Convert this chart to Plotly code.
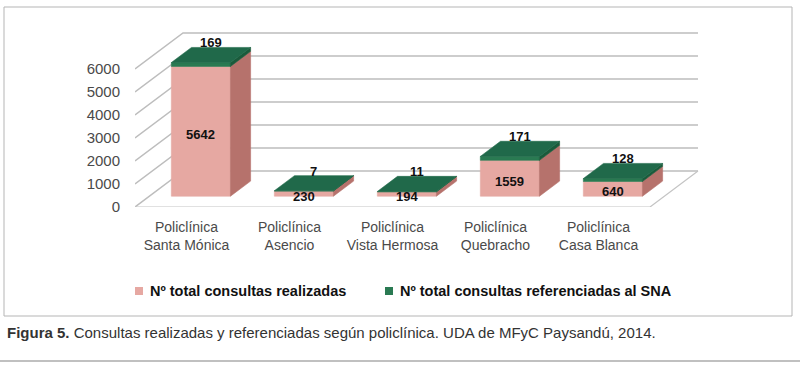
import plotly.graph_objects as go

# ---------------- data ----------------
categories = ["Policlínica<br>Santa Mónica", "Policlínica<br>Asencio",
              "Policlínica<br>Vista Hermosa", "Policlínica<br>Quebracho",
              "Policlínica<br>Casa Blanca"]
realizadas = [5642, 230, 194, 1559, 640]
referenciadas = [169, 7, 11, 171, 128]
y_ticks = [0, 1000, 2000, 3000, 4000, 5000, 6000]
series_names = ["Nº total consultas realizadas",
                "Nº total consultas referenciadas al SNA"]
caption_bold = "Figura 5."
caption_text = " Consultas realizadas y referenciadas según policlínica. UDA de MFyC Paysandú, 2014."

# ---------------- layout geometry ----------------
W, H = 800, 375
L, R, T, B = 135, 100, 25, 168
PW, PH = W - L - R, H - T - B
CAT_PX = 103.0
X_RANGE = [-0.5, -0.5 + PW / CAT_PX]
PX_PER_UNIT = 0.023
Y_RANGE = [0, PH / PX_PER_UNIT]

# pseudo-3D projection (depth z in [0, 1])
DX = 48 / CAT_PX          # category units for full depth
DY = 36 / PX_PER_UNIT     # value units for full depth
Z0, Z1 = 0.30, 0.72       # bar depth span
HALF = 0.287              # half bar width (category units)

PINK_FRONT = "#E6A8A2"
PINK_SIDE = "#B6726C"
GREEN_FRONT = "#2A7A52"
GREEN_TOP = "#20694A"
GREEN_SIDE = "#1A5A3B"
GRID = "#BDBDBD"


def proj(x, v, z):
    return x + z * DX, v + z * DY


def px2paper(px, py):
    return (px - L) / PW, (H - B - py) / PH


def poly_trace(polys, color):
    xs, ys = [], []
    for p in polys:
        for (x, v, z) in p + [p[0]]:
            a, b = proj(x, v, z)
            xs.append(a)
            ys.append(b)
        xs.append(None)
        ys.append(None)
    return go.Scatter(x=xs, y=ys, mode="lines", fill="toself",
                      fillcolor=color, line=dict(color=color, width=0.6),
                      hoverinfo="skip", showlegend=False)


fig = go.Figure()

# ---------------- walls / floor ----------------
xl, xr = -0.5, len(categories) - 0.5
gx, gy = [], []
for v in y_ticks:
    for (x, z) in [(xl, 0), (xl, 1), (xr, 1)]:
        a, b = proj(x, v, z)
        gx.append(a)
        gy.append(b)
    gx.append(None)
    gy.append(None)
fig.add_trace(go.Scatter(x=gx, y=gy, mode="lines",
                         line=dict(color=GRID, width=1.5),
                         hoverinfo="skip", showlegend=False))
fx, fy = [], []
for (x, z) in [(xl, 0), (xr, 0), (xr, 1)]:
    a, b = proj(x, 0, z)
    fx.append(a)
    fy.append(b)
fig.add_trace(go.Scatter(x=fx, y=fy, mode="lines",
                         line=dict(color="#C4C4C4", width=1.2),
                         hoverinfo="skip", showlegend=False))

# ---------------- bars ----------------
pf, ps, gf, gs, gt = [], [], [], [], []
for i, (r, g) in enumerate(zip(realizadas, referenciadas)):
    a, b = i - HALF, i + HALF
    t = r + g
    pf.append([(a, 0, Z0), (b, 0, Z0), (b, r, Z0), (a, r, Z0)])
    ps.append([(b, 0, Z0), (b, 0, Z1), (b, r, Z1), (b, r, Z0)])
    gf.append([(a, r, Z0), (b, r, Z0), (b, t, Z0), (a, t, Z0)])
    gs.append([(b, r, Z0), (b, r, Z1), (b, t, Z1), (b, t, Z0)])
    gt.append([(a, t, Z0), (b, t, Z0), (b, t, Z1), (a, t, Z1)])
for polys, col in [(pf, PINK_FRONT), (ps, PINK_SIDE), (gf, GREEN_FRONT),
                   (gs, GREEN_SIDE), (gt, GREEN_TOP)]:
    fig.add_trace(poly_trace(polys, col))

annotations = []
lab_font = dict(family="Liberation Sans", size=13, color="#111111")
for i, (r, g) in enumerate(zip(realizadas, referenciadas)):
    x1, y1 = proj(i, r / 2, Z0)
    annotations.append(dict(x=x1, y=y1, xref="x", yref="y", text=f"<b>{r}</b>",
                            showarrow=False, yshift=-3, font=lab_font))
    x2, y2 = proj(i, r + g, (Z0 + Z1) / 2)
    annotations.append(dict(x=x2, y=y2, xref="x", yref="y", text=f"<b>{g}</b>",
                            showarrow=False, yshift=12, font=lab_font))

# ---------------- legend (custom) ----------------
shapes = []
leg_font = dict(family="Liberation Sans", size=14.5, color="#111111")
for (sx, tx, col, name) in [(135, 148, PINK_FRONT, series_names[0]),
                            (385, 398, GREEN_FRONT, series_names[1])]:
    x0p, y0p = px2paper(sx, 295)
    x1p, y1p = px2paper(sx + 8, 287)
    shapes.append(dict(type="rect", xref="paper", yref="paper",
                       x0=x0p, y0=y0p, x1=x1p, y1=y1p,
                       fillcolor=col, line=dict(width=0)))
    txp, typ = px2paper(tx, 291)
    annotations.append(dict(x=txp, y=typ, xref="paper", yref="paper",
                            text=f"<b>{name}</b>", showarrow=False,
                            xanchor="left", yanchor="middle", font=leg_font))

# outer frame
bx0, by0 = px2paper(4, 316)
bx1, by1 = px2paper(792, 7)
shapes.append(dict(type="rect", xref="paper", yref="paper",
                   x0=bx0, y0=by0, x1=bx1, y1=by1,
                   line=dict(color="#B5B5B5", width=1), fillcolor="rgba(0,0,0,0)"))
# rule under caption
lx0, ly = px2paper(0, 361)
lx1, _ = px2paper(800, 361)
shapes.append(dict(type="line", xref="paper", yref="paper",
                   x0=lx0, y0=ly, x1=lx1, y1=ly,
                   line=dict(color="#ABABAB", width=1.5)))
# caption
cx, cy = px2paper(5, 332)
annotations.append(dict(x=cx, y=cy, xref="paper", yref="paper",
                        text=f"<b>{caption_bold}</b>{caption_text}",
                        showarrow=False, xanchor="left", yanchor="middle",
                        font=dict(family="Liberation Sans", size=15, color="#333333")))

fig.update_layout(
    width=W, height=H,
    margin=dict(l=L, r=R, t=T, b=B, pad=0),
    paper_bgcolor="white", plot_bgcolor="white",
    showlegend=False,
    xaxis=dict(range=X_RANGE, tickvals=list(range(len(categories))),
               ticktext=categories, showgrid=False, zeroline=False,
               showline=False, ticks="", ticklabelstandoff=10,
               tickfont=dict(family="Liberation Sans", size=14, color="#4A4A4A"),
               fixedrange=True),
    yaxis=dict(range=Y_RANGE, tickvals=y_ticks, showgrid=False, zeroline=False,
               showline=False, ticks="", ticklabelstandoff=14,
               tickfont=dict(family="Liberation Sans", size=15, color="#4A4A4A"),
               fixedrange=True),
    shapes=shapes,
    annotations=annotations,
)

fig.write_html("out.html", config={"displayModeBar": False},
               post_script="document.body.style.margin='0';document.body.style.overflow='hidden';")
